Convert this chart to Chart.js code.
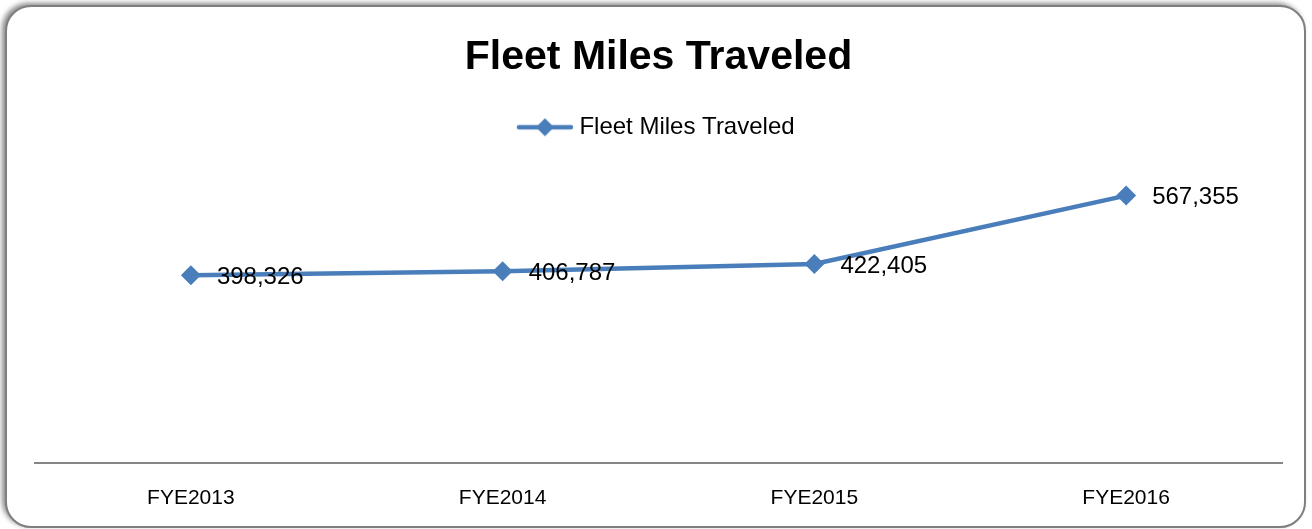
<!DOCTYPE html>
<html lang="en">
<head>
    <meta charset="UTF-8">
    <title>Fleet Miles Traveled</title>
    <script src="https://cdn.jsdelivr.net/npm/chart.js"></script>
    <style>
        html, body { margin: 0; padding: 0; background: #fff; }
        .wrap { position: relative; width: 1312px; height: 529px; overflow: hidden; }
        .frame { position: absolute; left: 5px; top: 5px; width: 1301px; height: 523px; box-sizing: border-box;
                 border: 2px solid #7f7f7f; border-radius: 26px; box-shadow: -3px -2px 5px rgba(0,0,0,0.45); background: #fff; }
        canvas { position: absolute; left: 0; top: 0; }
    </style>
</head>
<body>
<div class="wrap">
    <div class="frame"></div>
    <canvas id="chart" width="1312" height="529"></canvas>
</div>
<script>
    const categories = ["FYE2013", "FYE2014", "FYE2015", "FYE2016"];
    const milesTraveled = [398326, 406787, 422405, 567355];
    const seriesName = "Fleet Miles Traveled";

    const blue = "#4A7EBB";
    const fontFamily = "'Liberation Sans', Arial, sans-serif";

    // legend marker: short line with a diamond, like the original
    const legendMark = document.createElement("canvas");
    legendMark.width = 58;
    legendMark.height = 22;
    (function () {
        const c = legendMark.getContext("2d");
        c.strokeStyle = blue;
        c.lineWidth = 4.5;
        c.lineCap = "round";
        c.beginPath();
        c.moveTo(3, 11);
        c.lineTo(55, 11);
        c.stroke();
        c.fillStyle = blue;
        c.beginPath();
        c.moveTo(29, 2);
        c.lineTo(38, 11);
        c.lineTo(29, 20);
        c.lineTo(20, 11);
        c.closePath();
        c.fill();
    })();

    // value labels to the right of each point
    const valueLabels = {
        id: "valueLabels",
        afterDatasetsDraw(chart) {
            const ctx = chart.ctx;
            const meta = chart.getDatasetMeta(0);
            ctx.save();
            ctx.font = "24px " + fontFamily;
            ctx.fillStyle = "#000";
            ctx.textAlign = "left";
            ctx.textBaseline = "middle";
            meta.data.forEach((pt, i) => {
                ctx.fillText(milesTraveled[i].toLocaleString("en-US"), pt.x + 26, pt.y + 2);
            });
            ctx.restore();
        }
    };

    // extra room under the legend
    const legendSpace = {
        id: "legendSpace",
        beforeInit(chart) {
            const fit = chart.legend.fit;
            chart.legend.fit = function () {
                fit.call(this);
                this.height += 31;
            };
        }
    };

    new Chart(document.getElementById("chart"), {
        type: "line",
        data: {
            labels: categories,
            datasets: [{
                label: seriesName,
                data: milesTraveled,
                borderColor: blue,
                backgroundColor: blue,
                borderWidth: 4.5,
                pointStyle: "rectRot",
                pointRadius: 10,
                pointHoverRadius: 10,
                pointBorderWidth: 0,
                tension: 0
            }]
        },
        options: {
            responsive: false,
            animation: false,
            layout: { padding: { left: 35, right: 30, top: 0, bottom: 18 } },
            plugins: {
                title: {
                    display: true,
                    text: "Fleet Miles Traveled",
                    color: "#000",
                    font: { family: fontFamily, size: 41, weight: "bold" },
                    padding: { top: 33, bottom: 23 }
                },
                legend: {
                    display: true,
                    labels: {
                        usePointStyle: true,
                        pointStyle: legendMark,
                        pointStyleWidth: 45,
                        color: "#000",
                        font: { family: fontFamily, size: 24 }
                    }
                },
                tooltip: { enabled: false }
            },
            scales: {
                x: {
                    offset: true,
                    grid: { display: false, drawTicks: false },
                    border: { display: true, color: "#868686", width: 2 },
                    ticks: { color: "#000", padding: 23, font: { family: fontFamily, size: 21 } },
                    afterFit(scale) { scale.height = 48; }
                },
                y: {
                    display: false,
                    min: 0,
                    max: 600000
                }
            }
        },
        plugins: [valueLabels, legendSpace]
    });
</script>
</body>
</html>
